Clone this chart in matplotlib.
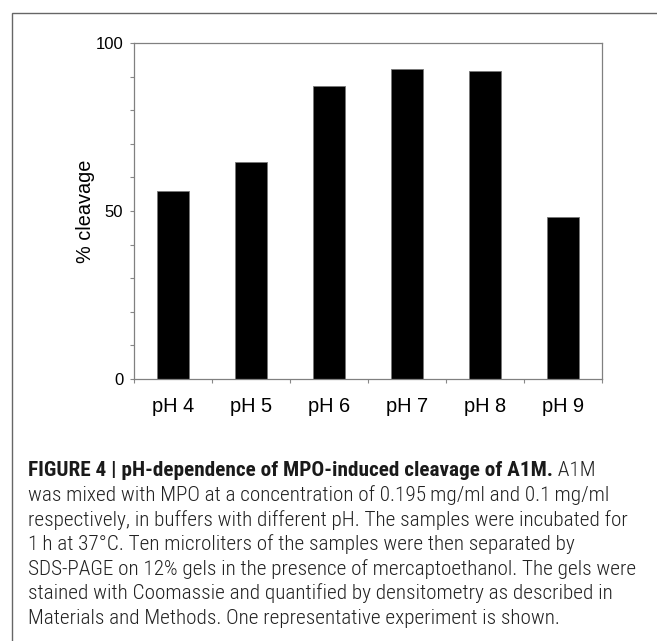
import matplotlib
matplotlib.use("Agg")
import matplotlib.pyplot as plt
from matplotlib.patches import Rectangle
from matplotlib import font_manager

categories = ["pH 4", "pH 5", "pH 6", "pH 7", "pH 8", "pH 9"]
cleavage = [56.0, 64.5, 87.4, 92.3, 91.7, 48.1]

caption_bold = "FIGURE 4 | pH-dependence of MPO-induced cleavage of A1M."
caption_lines = [
    " A1M",
    "was mixed with MPO at a concentration of 0.195\u2009mg/ml and 0.1\u2009mg/ml",
    "respectively, in buffers with different pH. The samples were incubated for",
    "1\u2009h at 37\u00b0C. Ten microliters of the samples were then separated by",
    "SDS-PAGE on 12% gels in the presence of mercaptoethanol. The gels were",
    "stained with Coomassie and quantified by densitometry as described in",
    "Materials and Methods. One representative experiment is shown.",
]

# pick a condensed face for the caption if one is installed
names = {f.name for f in font_manager.fontManager.ttflist}
narrow = "Liberation Sans"
for cand in ["Roboto Condensed", "Liberation Sans Narrow", "Arimo Narrow",
             "Archivo Narrow", "PT Sans Narrow", "Fira Sans Condensed"]:
    if cand in names:
        narrow = cand
        break
cap_fam = [narrow, "DejaVu Sans"]

plt.rcParams["font.family"] = ["Liberation Sans", "DejaVu Sans"]

W, H = 657, 641
fig = plt.figure(figsize=(W / 100, H / 100), dpi=100)
ax = fig.add_axes([134.3 / W, 1 - 378.7 / H, 468 / W, 335.4 / H])

x = range(len(categories))
ax.bar(x, cleavage, width=0.41, color="black", edgecolor="#777777", linewidth=0.6)

ax.set_xlim(-0.5, len(categories) - 0.5)
ax.set_ylim(0, 100)
ax.set_yticks(range(0, 101, 10))
ax.set_yticklabels([str(v) if v % 50 == 0 else "" for v in range(0, 101, 10)], fontsize=12)
ax.set_xticks([i - 0.5 for i in range(len(categories) + 1)])
ax.set_xticklabels([])
ax.set_xticks(list(x), minor=True)
ax.set_xticklabels(categories, minor=True, fontsize=14.4)
ax.tick_params(axis="x", which="minor", length=0, pad=13.5)
ax.tick_params(axis="x", which="major", length=3, color="#888888", width=0.8)
ax.tick_params(axis="y", length=3, color="#888888", width=0.8, pad=5)
for s in ax.spines.values():
    s.set_color("#808080")
    s.set_linewidth(0.9)
ax.set_ylabel("% cleavage", fontsize=14.3, labelpad=0.5)

# outer frame
fig.patches.append(Rectangle((12 / W, -0.05), 1.2, (H - 13) / H + 0.05,
                             transform=fig.transFigure, fill=False,
                             edgecolor="#666666", linewidth=1.0))

# caption: size the font so the longest line nears the reference width
x0 = 28 / W
y0 = 1 - 471 / H
dy = 24.5 / H
probe = fig.text(0, 0, caption_lines[4], fontsize=10, family=cap_fam, fontweight=300)
fig.canvas.draw()
w10 = probe.get_window_extent().width
probe.remove()
fs = min(10 * 624 / w10, 15.3)

t = fig.text(x0, y0, caption_bold, fontsize=fs, fontweight="bold",
             family=cap_fam, va="center", color="#1a1a1a")
fig.canvas.draw()
bb = t.get_window_extent()
fig.text(bb.x1 / W, y0, caption_lines[0], fontsize=fs, fontweight=300,
         family=cap_fam, va="center", color="#222222")
for i, line in enumerate(caption_lines[1:], start=1):
    fig.text(x0, y0 - i * dy, line, fontsize=fs, fontweight=300,
             family=cap_fam, va="center", color="#222222")

fig.savefig("out.png", dpi=100)
